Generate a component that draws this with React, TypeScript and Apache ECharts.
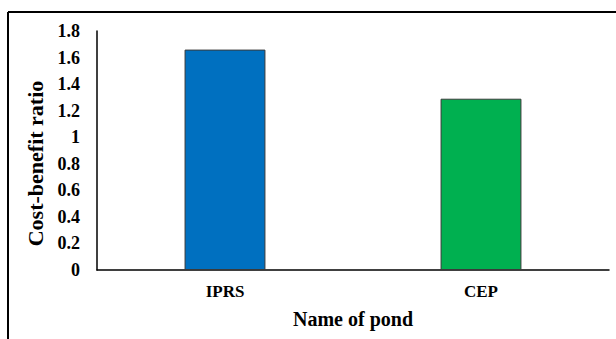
import React, { useEffect, useRef } from "react";
import * as echarts from "echarts";

const categories = ["IPRS", "CEP"];
const ratios = [1.66, 1.29];
const barColors = ["#0070C0", "#00B050"];

const FONT = "'Liberation Serif', 'Times New Roman', serif";

export default function App() {
  const ref = useRef<HTMLDivElement>(null);

  useEffect(() => {
    if (!ref.current) return;
    const chart = echarts.init(ref.current, null, { renderer: "svg" });
    chart.setOption({
      animation: false,
      backgroundColor: "#ffffff",
      grid: { left: 97, right: 7, top: 31, bottom: 69 },
      xAxis: {
        type: "category",
        data: categories,
        name: "Name of pond",
        nameLocation: "middle",
        nameGap: 39,
        nameTextStyle: { fontFamily: FONT, fontWeight: "bold", fontSize: 20, color: "#000" },
        axisLine: { lineStyle: { color: "#000", width: 1.5 } },
        axisTick: { show: false },
        axisLabel: { fontFamily: FONT, fontWeight: "bold", fontSize: 17, color: "#000", margin: 13 },
      },
      yAxis: {
        type: "value",
        min: 0,
        max: 1.8,
        interval: 0.2,
        name: "Cost-benefit ratio",
        nameLocation: "middle",
        nameGap: 46,
        nameRotate: 90,
        nameTextStyle: {
          fontFamily: FONT,
          fontWeight: "bold",
          fontSize: 22,
          color: "#000",
          padding: [0, 26, 0, 0],
        },
        axisLine: { show: true, lineStyle: { color: "#000", width: 1.5 } },
        axisTick: { show: false },
        splitLine: { show: false },
        axisLabel: {
          fontFamily: FONT,
          fontWeight: "bold",
          fontSize: 18,
          color: "#000",
          margin: 17,
          formatter: (v: number) => String(Math.round(v * 10) / 10),
        },
      },
      series: [
        {
          type: "bar",
          barWidth: "31.6%",
          data: ratios.map((v, i) => ({
            value: v,
            itemStyle: { color: barColors[i], borderColor: "#3a3a3a", borderWidth: 1 },
          })),
        },
      ],
      graphic: [
        { type: "line", shape: { x1: 8, y1: 12, x2: 616, y2: 12 }, style: { stroke: "#000", lineWidth: 2 } },
        { type: "line", shape: { x1: 8, y1: 12, x2: 8, y2: 339 }, style: { stroke: "#000", lineWidth: 2 } },
      ],
    });
    return () => chart.dispose();
  }, []);

  return (
    <div
      ref={ref}
      style={{ position: "fixed", left: 0, top: 0, width: 616, height: 339 }}
    />
  );
}
